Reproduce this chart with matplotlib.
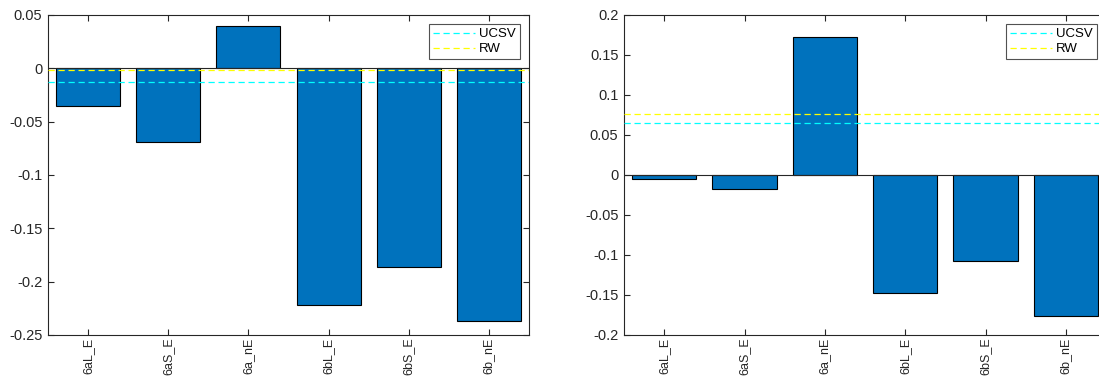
import matplotlib
matplotlib.use("Agg")
import matplotlib.pyplot as plt

labels = ["6aL_E", "6aS_E", "6a_nE", "6bL_E", "6bS_E", "6b_nE"]

left_vals = [-0.0356, -0.069, 0.040, -0.222, -0.1865, -0.237]
left_ucsv = -0.0125
left_rw = -0.0012

right_vals = [-0.0045, -0.017, 0.173, -0.1475, -0.1075, -0.176]
right_ucsv = 0.0646
right_rw = 0.0759

bar_color = "#0072BD"
axis_color = "#262626"

plt.rcParams["font.family"] = ["Liberation Sans", "DejaVu Sans"]

fig = plt.figure(figsize=(10.99, 3.77), dpi=100)
ax1 = fig.add_axes([48 / 1099, 42 / 377, 481 / 1099, 320 / 377])
ax2 = fig.add_axes([624 / 1099, 42 / 377, 482 / 1099, 320 / 377])


def draw(ax, vals, ucsv, rw, ylim, yticks, yticklabels):
    x = range(1, len(vals) + 1)
    ax.bar(x, vals, width=0.8, color=bar_color, edgecolor="black", linewidth=0.8, zorder=2)
    ax.axhline(0, color=axis_color, linewidth=0.8, zorder=3)
    ax.axhline(ucsv, color="cyan", linestyle=(0, (5, 3)), linewidth=0.9, label="UCSV", zorder=4)
    ax.axhline(rw, color="yellow", linestyle=(0, (5, 3)), linewidth=0.9, label="RW", zorder=4)
    ax.set_xlim(0.5, len(vals) + 0.5)
    ax.set_ylim(*ylim)
    ax.set_xticks(list(x))
    ax.set_xticklabels(labels, rotation=90, fontsize=9, color=axis_color)
    ax.set_yticks(yticks)
    ax.set_yticklabels(yticklabels, fontsize=10.5, color=axis_color)
    ax.tick_params(direction="in", top=True, right=True, length=4, width=0.8, colors=axis_color)
    ax.tick_params(axis="y", pad=4)
    ax.tick_params(axis="x", pad=2)
    for s in ax.spines.values():
        s.set_color(axis_color)
        s.set_linewidth(0.8)
    leg = ax.legend(loc="upper right", fontsize=9.5, handlelength=3.2, frameon=True,
                    fancybox=False, edgecolor=axis_color, borderaxespad=0.7,
                    borderpad=0.3, labelspacing=0.2, handletextpad=0.3)
    leg.get_frame().set_linewidth(0.8)


draw(ax1, left_vals, left_ucsv, left_rw, (-0.25, 0.05),
     [-0.25, -0.2, -0.15, -0.1, -0.05, 0, 0.05],
     ["-0.25", "-0.2", "-0.15", "-0.1", "-0.05", "0", "0.05"])
draw(ax2, right_vals, right_ucsv, right_rw, (-0.2, 0.2),
     [-0.2, -0.15, -0.1, -0.05, 0, 0.05, 0.1, 0.15, 0.2],
     ["-0.2", "-0.15", "-0.1", "-0.05", "0", "0.05", "0.1", "0.15", "0.2"])

fig.savefig("out.png", dpi=100)
